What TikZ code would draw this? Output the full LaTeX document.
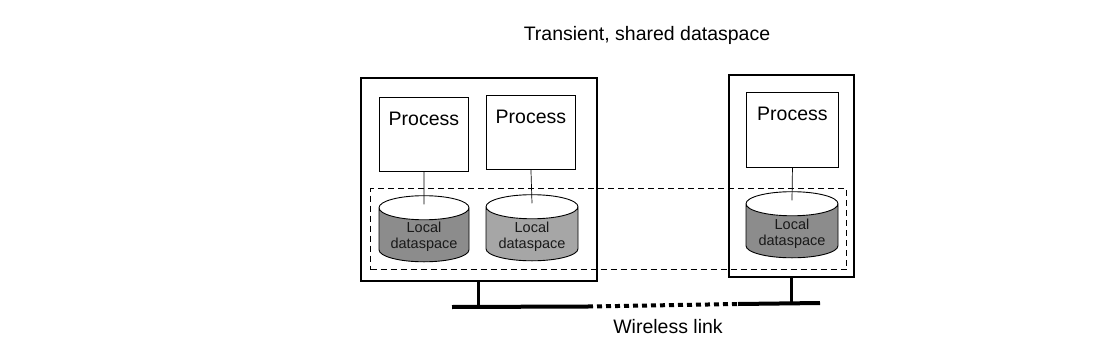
\documentclass[tikz,border=0pt]{standalone}
\usepackage{fontspec}
\setmainfont{Liberation Sans}
\usetikzlibrary{shapes.geometric, positioning, calc}

\newcommand{\cylbody}{\phantom{Local}\\\phantom{dataspace}}

\begin{document}
\begin{tikzpicture}[x=1pt, y=-1pt,
    host/.style={draw, line width=1.8pt, anchor=north west, inner sep=0pt},
    proc/.style={draw, line width=0.9pt, anchor=north west, inner sep=0pt},
    storetxt/.style={align=center, inner sep=0pt, text=black!90,
        font=\fontsize{14.5}{16}\selectfont},
    store/.style={storetxt, cylinder, shape border rotate=90, aspect=0.36, draw, line width=0.9pt,
        cylinder uses custom fill, cylinder body fill=black!45, cylinder end fill=white,
        minimum width=90pt},
    lbl/.style={font=\fontsize{19.5}{23}\selectfont}]
    \useasboundingbox (0,0) rectangle (1114,364);
    % machines
    \node[host, minimum width=236pt, minimum height=203pt] (h1) at (360,77) {};
    \node[host, minimum width=125pt, minimum height=202pt] (h2) at (728,74) {};
    % processes
    \node[proc, minimum width=89pt, minimum height=74pt] (p1) at (379,97) {};
    \node[proc, minimum width=89pt, minimum height=74pt] (p2) at (486,95) {};
    \node[proc, minimum width=92pt, minimum height=75pt] (p3) at (746,92) {};
    \node[lbl, below=12pt of p1.north] (p1txt) {Process};
    \node[lbl, below=12pt of p2.north] (p2txt) {Process};
    \node[lbl, below=12pt of p3.north] (p3txt) {Process};
    % local dataspaces
    \node[store, minimum height=66pt] (c1) at (424,235) {\cylbody};
    \node[store, minimum height=61pt, minimum width=92pt, cylinder body fill=black!35] (c2) at (532,234) {\cylbody};
    \node[store, minimum height=64pt, minimum width=92pt] (c3) at (792,231) {\cylbody};
    \node[storetxt] (c1txt) at ($(c1.center)+(0,2)$) {Local\\dataspace};
    \node[storetxt] (c2txt) at ($(c2.center)+(0,2.5)$) {Local\\dataspace};
    \node[storetxt] (c3txt) at ($(c3.center)+(0,3)$) {Local\\dataspace};
    \draw[line width=0.7pt] (p1.south) -- ($(c1.top)+(0,9)$);
    \draw[line width=0.7pt] (p2.south) -- ($(c2.top)+(0,9)$);
    \draw[line width=0.7pt] (p3.south) -- ($(c3.top)+(0,9)$);
    % shared dataspace
    \node[draw, line width=1.1pt, dash pattern=on 6pt off 4pt, anchor=north west, inner sep=0pt,
        minimum width=476pt, minimum height=81pt] (shared) at (370,188) {};
    \node[lbl] (title) at (647,35) {Transient, shared dataspace};
    % network
    \coordinate (busL) at (452,307);
    \coordinate (gapL) at (588,306.5);
    \coordinate (gapR) at (738,304);
    \coordinate (busR) at (820,303);
    \draw[line width=4pt] (busL) -- (gapL);
    \draw[line width=4pt, dash pattern=on 5pt off 4pt] (gapL) -- (gapR);
    \draw[line width=4pt] (gapR) -- (busR);
    \draw[line width=3pt] (h1.south) -- (h1.south |- busL);
    \draw[line width=3pt] (h2.south) -- (h2.south |- busR);
    \node[lbl] (wl) at (668,327) {Wireless link};
\end{tikzpicture}
\end{document}
